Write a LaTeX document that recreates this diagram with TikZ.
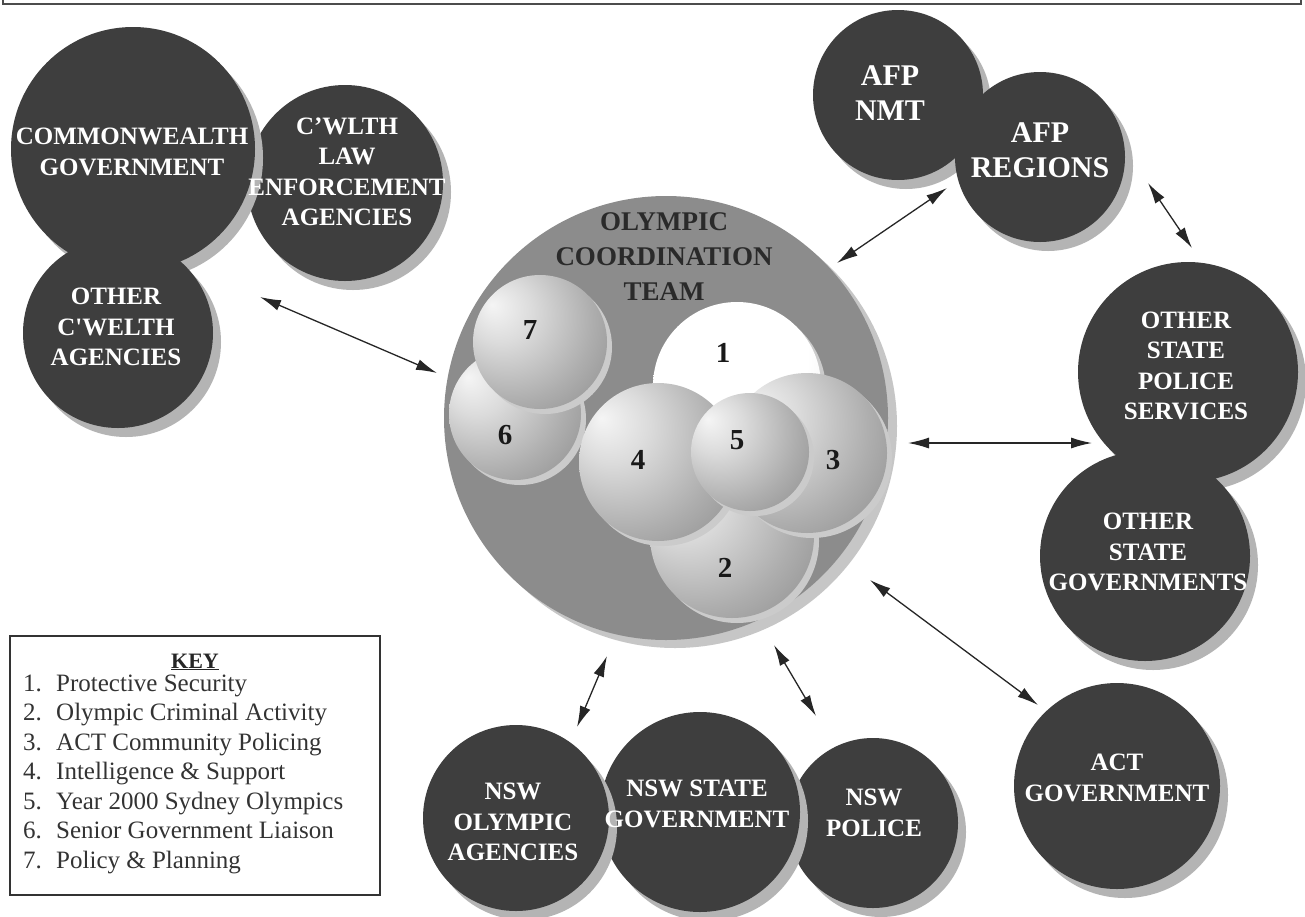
\documentclass[tikz,border=0pt]{standalone}
\usepackage{fontspec}
\setmainfont{Liberation Serif}
\usetikzlibrary{arrows.meta}
\definecolor{darkc}{HTML}{3E3E3E}
\definecolor{shad}{HTML}{B4B4B4}
\definecolor{octgray}{HTML}{8C8C8C}
\definecolor{octshad}{HTML}{C6C6C6}
\definecolor{octtext}{HTML}{2A2A2A}
\definecolor{halo}{HTML}{CBCBCB}
\pgfdeclareradialshading{sphere}{\pgfpoint{-18bp}{14bp}}{color(0bp)=(black!4); color(12bp)=(black!14); color(30bp)=(black!32); color(48bp)=(black!48); color(70bp)=(black!56)}
\pgfdeclareradialshading{sphereone}{\pgfpoint{-15bp}{15bp}}{color(0bp)=(white); color(30bp)=(white); color(50bp)=(black!12); color(75bp)=(black!25)}
\begin{document}
\begin{tikzpicture}[x=1pt,y=-1pt,
  org/.style={circle, fill=darkc, inner sep=0pt, minimum size=#1,
    preaction={fill=shad, transform canvas={shift={(8,9)}}}},
  lab/.style={text=white, align=center, font=\fontsize{25}{30.5}\selectfont\bfseries},
  afplab/.style={text=white, align=center, font=\fontsize{30}{35}\selectfont\bfseries},
  sph/.style={circle, inner sep=0pt, minimum size=#1, shading=sphere,
    preaction={fill=halo, transform canvas={shift={(5,5)}}}},
  num/.style={font=\fontsize{29}{30}\selectfont\bfseries, text=black!90},
  conn/.style={{Latex[length=21pt,width=11pt]}-{Latex[length=21pt,width=11pt]}, line width=1.3pt, draw=black!85},
  keyl/.style={anchor=base west, inner sep=0pt, text=black!80, font=\fontsize{25}{29}\selectfont},
]
\useasboundingbox (0,0) rectangle (1305,916);
\fill[white] (0,0) rectangle (1305,916);

% top frame (only bottom visible)
\draw[line width=1.5pt, draw=black!70] (3,-10) -- (3,4) -- (1301,4) -- (1301,-10);

% Commonwealth group
\node[org=196] (law) at (345,183) {};
\node[org=244] (cwg) at (133,149) {};
\node[org=190] (occ) at (118,333) {};
\node[lab] (cwgt) at (132,152) {COMMONWEALTH\\GOVERNMENT};
\node[lab] (lawt) at (347,172) {C’WLTH\\LAW\\ENFORCEMENT\\AGENCIES};
\node[lab] (occt) at (116,327) {OTHER\\C\textquotesingle WELTH\\AGENCIES};

% AFP
\node[org=170] (nmt) at (898,95) {};
\node[org=170] (afpr) at (1040,157) {};
\node[afplab] (nmtt) at (890,93) {AFP\\NMT};
\node[afplab] (afprt) at (1040,150) {AFP\\REGIONS};

% Other states
\node[org=220] (osps) at (1188,372) {};
\node[org=210] (osg) at (1145,556) {};
\node[lab] (ospst) at (1186,366) {OTHER\\STATE\\POLICE\\SERVICES};
\node[lab] (osgt) at (1148,552) {OTHER\\STATE\\GOVERNMENTS};

% ACT
\node[org=206] (act) at (1117,786) {};
\node[lab] (actt) at (1117,778) {ACT\\GOVERNMENT};

% NSW
\node[org=170] (nswp) at (873,823) {};
\node[org=200] (nsws) at (700,812) {};
\node[org=186] (nswo) at (516,818) {};
\node[lab] (nswpt) at (874,813) {NSW\\POLICE};
\node[lab] (nswst) at (697,804) {NSW STATE\\GOVERNMENT};
\node[lab] (nswot) at (513,822) {NSW\\OLYMPIC\\AGENCIES};

% Olympic Coordination Team
\node[circle, fill=octgray, inner sep=0pt, minimum size=444,
  preaction={fill=octshad, transform canvas={shift={(9,8)}}}] (oct) at (666,418) {};
\node[text=octtext, align=center, font=\fontsize{27}{35}\selectfont\bfseries] (octt) at (664,257) {OLYMPIC\\COORDINATION\\TEAM};

% inner spheres
\node[sph=132] (s6) at (515,414) {};
\node[sph=134] (s7) at (540,342) {};
\node[sph=168, shading=sphereone] (s1) at (737,386) {};
\node[sph=164] (s2) at (732,536) {};
\node[sph=160] (s3) at (807,453) {};
\node[sph=158] (s4) at (658,462) {};
\node[sph=118] (s5) at (750,452) {};
\node[num] (n7) at (530,330) {7};
\node[num] (n6) at (505,435) {6};
\node[num] (n1) at (723,353) {1};
\node[num] (n4) at (638,460) {4};
\node[num] (n5) at (737,440) {5};
\node[num] (n3) at (833,460) {3};
\node[num] (n2) at (725,568) {2};

% connectors
\coordinate (c1a) at (260,297); \coordinate (c1b) at (437,373);
\coordinate (c2a) at (947,188); \coordinate (c2b) at (837,263);
\coordinate (c3a) at (1148,183); \coordinate (c3b) at (1192,248);
\coordinate (c4a) at (908,443); \coordinate (c4b) at (1092,443);
\coordinate (c5a) at (870,580); \coordinate (c5b) at (1038,705);
\coordinate (c6a) at (607,656); \coordinate (c6b) at (577,727);
\coordinate (c7a) at (774,645); \coordinate (c7b) at (816,716);
\draw[conn] (c1a) -- (c1b);
\draw[conn] (c2a) -- (c2b);
\draw[conn] (c3a) -- (c3b);
\draw[conn] (c4a) -- (c4b);
\draw[conn] (c5a) -- (c5b);
\draw[conn] (c6a) -- (c6b);
\draw[conn] (c7a) -- (c7b);

% key
\node[draw=black!80, line width=2pt, minimum width=370, minimum height=259, inner sep=0pt] (key) at (195,765.5) {};
\node[font=\fontsize{22}{24}\selectfont\bfseries, text=black!85] (keyt) at (195,662) {\underline{KEY}};
\node[keyl] (k1) at (23,691) {\makebox[33pt][l]{1.}Protective Security};
\node[keyl] (k2) at (23,720.5) {\makebox[33pt][l]{2.}Olympic Criminal Activity};
\node[keyl] (k3) at (23,750) {\makebox[33pt][l]{3.}ACT Community Policing};
\node[keyl] (k4) at (23,779.5) {\makebox[33pt][l]{4.}Intelligence \& Support};
\node[keyl] (k5) at (23,809) {\makebox[33pt][l]{5.}Year 2000 Sydney Olympics};
\node[keyl] (k6) at (23,838.5) {\makebox[33pt][l]{6.}Senior Government Liaison};
\node[keyl] (k7) at (23,868) {\makebox[33pt][l]{7.}Policy \& Planning};
\end{tikzpicture}
\end{document}
